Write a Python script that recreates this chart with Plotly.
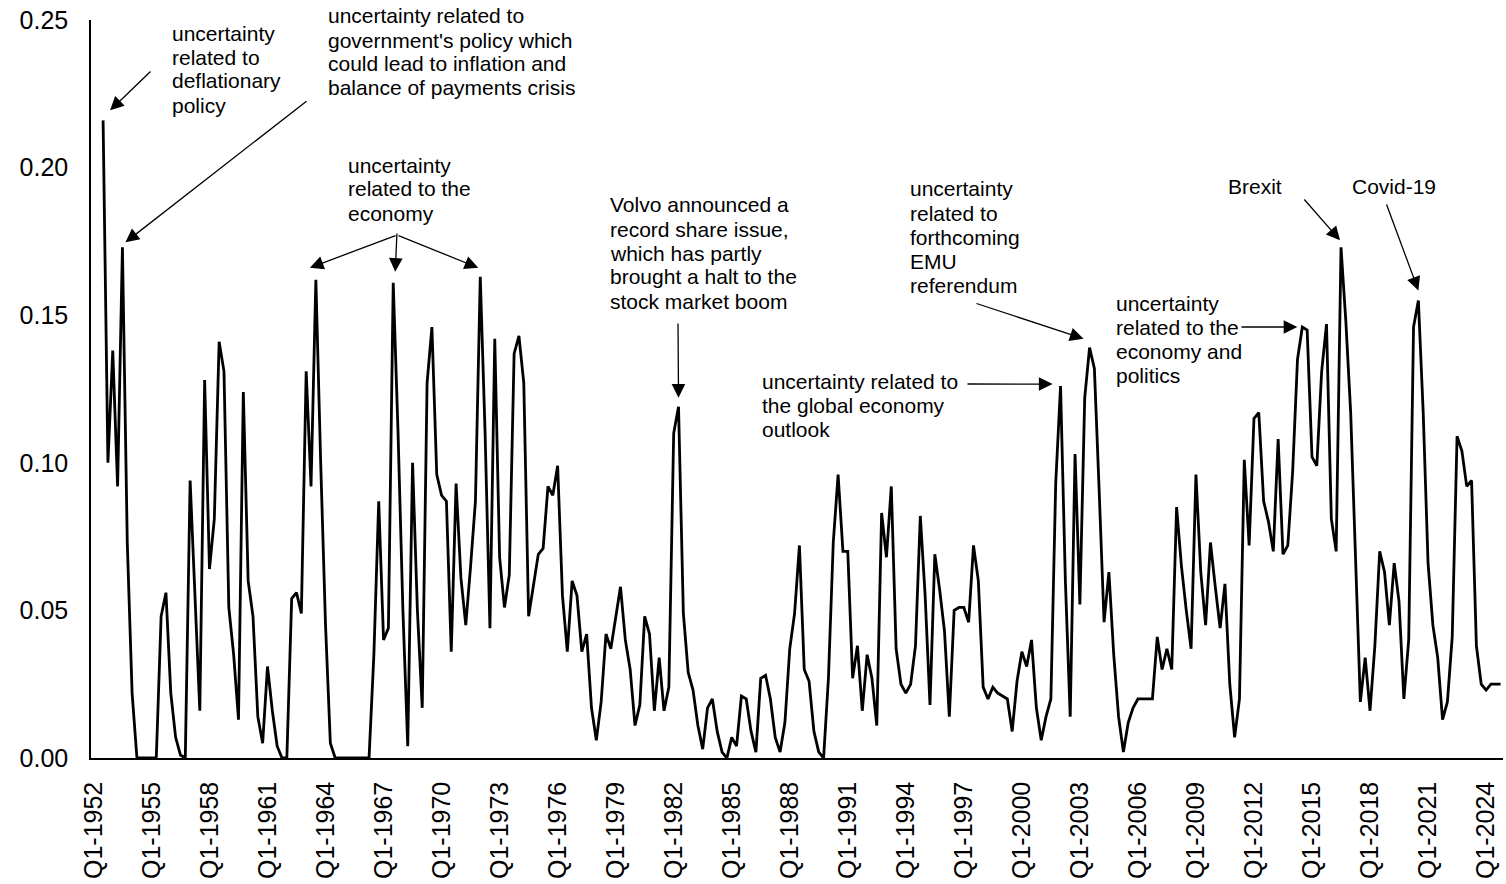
import plotly.graph_objects as go

# ---------------- data ----------------
years = list(range(1952, 2025))
quarters = [f"Q{q}-{y}" for y in years for q in (1, 2, 3, 4)]

vals_1950s = [None, None, 0.216, 0.100, 0.138, 0.092, 0.173, 0.073, 0.022, 0.0,
              0.0, 0.0, 0.0, 0.0, 0.048, 0.056, 0.022, 0.007, 0.001, 0.0,
              0.094, 0.055, 0.016, 0.128, 0.064, 0.081, 0.141, 0.131, 0.051, 0.035,
              0.013, 0.124]
vals_1960s = [0.060, 0.048, 0.014, 0.005, 0.031, 0.016, 0.004, 0.0, 0.0, 0.054,
              0.056, 0.049, 0.131, 0.092, 0.162, 0.100, 0.045, 0.005, 0.0, 0.0,
              0.0, 0.0, 0.0, 0.0, 0.0, 0.0, 0.035, 0.087, 0.040, 0.044,
              0.161, 0.110, 0.050, 0.004, 0.100, 0.050, 0.017, 0.127, 0.146, 0.096]
vals_1970s = [0.089, 0.087, 0.036, 0.093, 0.061, 0.045, 0.065, 0.087, 0.163, 0.110,
              0.044, 0.142, 0.068, 0.051, 0.062, 0.137, 0.143, 0.127, 0.048, 0.058,
              0.069, 0.071, 0.092, 0.089, 0.099, 0.055, 0.036, 0.060, 0.055, 0.036,
              0.042, 0.017, 0.006, 0.019, 0.042, 0.037, 0.048, 0.058, 0.040, 0.030]
vals_1980s = [0.011, 0.018, 0.048, 0.042, 0.016, 0.034, 0.016, 0.024, 0.110, 0.119,
              0.049, 0.029, 0.023, 0.011, 0.003, 0.017, 0.020, 0.009, 0.002, 0.0,
              0.007, 0.004, 0.021, 0.020, 0.009, 0.002, 0.027, 0.028, 0.020, 0.007,
              0.002, 0.012, 0.037, 0.049, 0.072, 0.030, 0.026, 0.009, 0.002, 0.0]
vals_1990s = [0.027, 0.073, 0.096, 0.070, 0.070, 0.027, 0.038, 0.016, 0.035, 0.027,
              0.011, 0.083, 0.068, 0.092, 0.037, 0.025, 0.022, 0.025, 0.038, 0.082,
              0.055, 0.018, 0.069, 0.057, 0.043, 0.014, 0.050, 0.051, 0.051, 0.046,
              0.072, 0.060, 0.024, 0.020, 0.024, 0.022, 0.021, 0.020, 0.009, 0.026]
vals_2000s = [0.036, 0.031, 0.040, 0.017, 0.006, 0.014, 0.020, 0.093, 0.126, 0.060,
              0.014, 0.103, 0.052, 0.122, 0.139, 0.132, 0.090, 0.046, 0.063, 0.035,
              0.014, 0.002, 0.012, 0.017, 0.020, 0.020, 0.020, 0.020, 0.041, 0.030,
              0.037, 0.030, 0.085, 0.065, 0.050, 0.037, 0.096, 0.063, 0.045, 0.073]
vals_2010s = [0.058, 0.044, 0.059, 0.025, 0.007, 0.020, 0.101, 0.072, 0.115, 0.117,
              0.087, 0.080, 0.070, 0.108, 0.069, 0.072, 0.097, 0.135, 0.146, 0.145,
              0.102, 0.099, 0.131, 0.147, 0.081, 0.070, 0.173, 0.148, 0.117, 0.065,
              0.019, 0.034, 0.016, 0.038, 0.070, 0.063, 0.045, 0.066, 0.053, 0.020]
vals_2020s = [0.040, 0.146, 0.155, 0.117, 0.066, 0.045, 0.034, 0.013, 0.019, 0.041,
              0.109, 0.104, 0.092, 0.094, 0.038, 0.025, 0.023, 0.025, 0.025, 0.025]

values = vals_1950s + vals_1960s + vals_1970s + vals_1980s + vals_1990s + vals_2000s + vals_2010s + vals_2020s

tick_step = 12
tick_labels = quarters[::tick_step]
y_ticks = [0.0, 0.05, 0.10, 0.15, 0.20, 0.25]

# annotations: (event quarter, text lines)
events = [
    ("Q3-1952", ["uncertainty", "related to", "deflationary", "policy"]),
    ("Q3-1953", ["uncertainty related to", "government's policy which",
                 "could lead to inflation and", "balance of payments crisis"]),
    ("Q3-1963", ["uncertainty", "related to the", "economy"]),
    ("Q3-1967", None),
    ("Q1-1972", None),
    ("Q2-1982", ["Volvo announced a", "record share issue,", "which has partly",
                 "brought a halt to the", "stock market boom"]),
    ("Q1-2002", ["uncertainty related to", "the global economy", "outlook"]),
    ("Q3-2003", ["uncertainty", "related to", "forthcoming", "EMU", "referendum"]),
    ("Q3-2014", ["uncertainty", "related to the", "economy and", "politics"]),
    ("Q3-2016", ["Brexit"]),
    ("Q3-2020", ["Covid-19"]),
]

# ---------------- layout geometry ----------------
W, H = 1506, 884
ML, MR, MT, MB = 91, 3, 20, 126
PW, PH = W - ML - MR, H - MT - MB
XR = [-0.5, len(quarters) - 0.5]
YR = [0, 0.25]
ux = PW / (XR[1] - XR[0])
uy = PH / (YR[1] - YR[0])


def X(px):
    return XR[0] + (px - ML) / ux


def Y(py):
    return YR[0] + (MT + PH - py) / uy


def PX(px):
    return (px - ML) / PW


def PY(py):
    return (MT + PH - py) / PH


FONT = "Liberation Sans, Arial, sans-serif"

fig = go.Figure()
fig.add_trace(go.Scatter(
    x=list(range(len(quarters))), y=values, mode="lines",
    line=dict(color="black", width=2.8), cliponaxis=False,
    hoverinfo="skip", showlegend=False,
))

# text blocks: (left px, first-line centre px)
text_pos = {
    0: (170, 33), 1: (326, 16), 2: (346, 165), 5: (608, 205),
    6: (760, 381), 7: (908, 189), 8: (1114, 303), 9: (1226, 186), 10: (1350, 186),
}
LINE = 24
ann = []
for k, (q, lines) in enumerate(events):
    if not lines:
        continue
    left, top = text_pos[k]
    for j, ln in enumerate(lines):
        ann.append(dict(x=PX(left), y=PY(top + j * LINE), xref="paper", yref="paper",
                        text=ln, showarrow=False, xanchor="left", yanchor="middle",
                        font=dict(family=FONT, size=21, color="black")))

# arrows: (event index, tip offset px (dx, dy), tail px)
arrows = [
    (0, (7, -10), (152, 70)),
    (1, (3, -5), (308, 100)),
    (2, (-6, -12), (397, 235)),
    (3, (2, -11), (397, 232)),
    (4, (-2, -9), (397, 235)),
    (5, (0, -9), (678, 322)),
    (6, (-8, -2), (966, 384)),
    (7, (-6, -9), (975, 303)),
    (8, (-5, 0), (1240, 327)),
    (9, (-1, -7), (1303, 198)),
    (10, (0, -10), (1386, 203)),
]
for k, (dx, dy), (tx, ty) in arrows:
    i = quarters.index(events[k][0])
    ann.append(dict(x=i + dx / ux, y=values[i] - dy / uy, xref="x", yref="y",
                    ax=X(tx), ay=Y(ty), axref="x", ayref="y",
                    text="", showarrow=True, arrowhead=2, arrowsize=2.1,
                    arrowwidth=1.3, arrowcolor="black", standoff=0))

fig.update_layout(
    width=W, height=H,
    margin=dict(l=ML, r=MR, t=MT, b=MB, pad=0),
    paper_bgcolor="white", plot_bgcolor="white",
    annotations=ann,
    font=dict(family=FONT, color="black"),
    xaxis=dict(
        range=XR, tickmode="array",
        tickvals=list(range(0, len(quarters), tick_step)), ticktext=tick_labels,
        tickangle=-90, tickfont=dict(family=FONT, size=25, color="black"),
        showline=True, linecolor="black", linewidth=1.5, ticks="",
        showgrid=False, zeroline=False, ticklabelstandoff=12,
    ),
    yaxis=dict(
        range=YR, tickmode="array", tickvals=y_ticks,
        ticktext=[f"{v:.2f}" for v in y_ticks],
        tickfont=dict(family=FONT, size=25, color="black"),
        showline=True, linecolor="black", linewidth=1.5, ticks="",
        showgrid=False, zeroline=False, ticklabelstandoff=16,
    ),
)

fig.write_html("out.html", config={"displayModeBar": False},
               post_script="document.body.style.margin='0';document.body.style.overflow='hidden';")
